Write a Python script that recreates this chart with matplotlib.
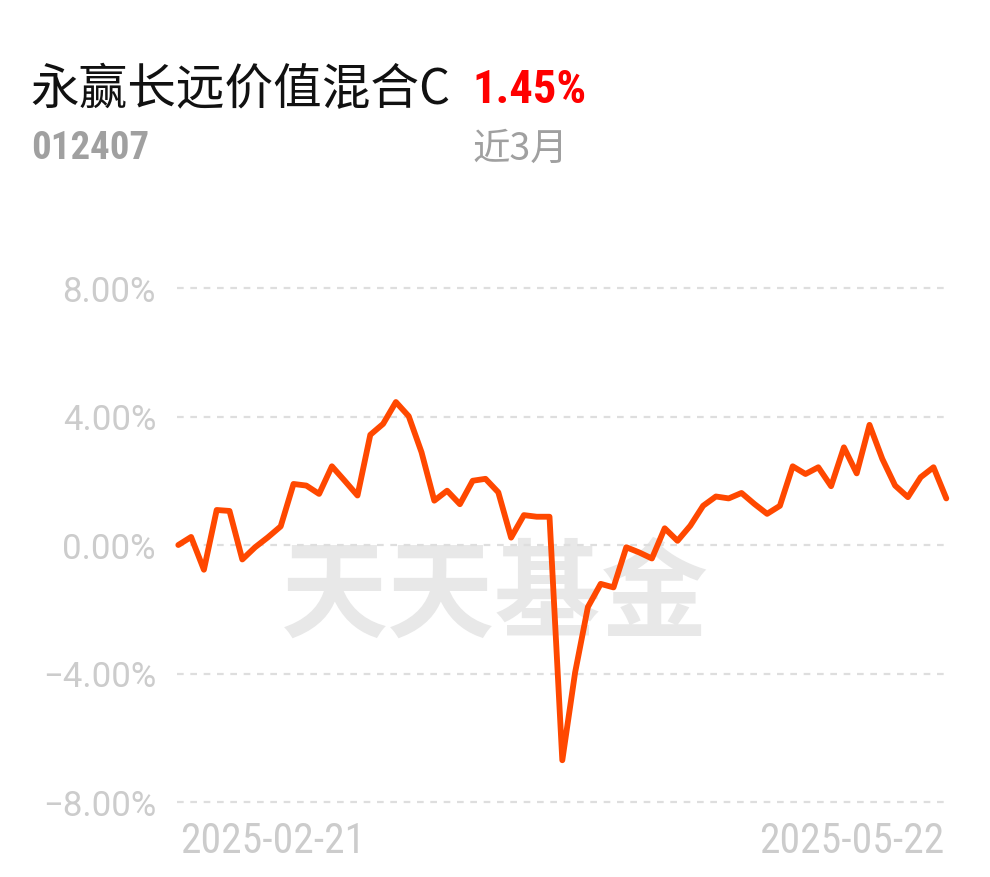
import matplotlib
matplotlib.use("Agg")
import matplotlib.pyplot as plt
import numpy as np

# ---- data ----
fund_name = "永赢长远价值混合C"
fund_code = "012407"
period_return = "1.45%"
period_label = "近3月"
start_date = "2025-02-21"
end_date = "2025-05-22"
y_ticks = [-8, -4, 0, 4, 8]
y_tick_labels = ["-8.00%", "-4.00%", "0.00%", "4.00%", "8.00%"]
returns = [
    0.00, 0.25, -0.77, 1.09, 1.06, -0.45, -0.07, 0.24, 0.58, 1.90,
    1.85, 1.59, 2.45, 2.00, 1.54, 3.43, 3.77, 4.45, 4.01, 2.89,
    1.38, 1.69, 1.27, 2.00, 2.06, 1.64, 0.23, 0.93, 0.88, 0.88,
    -6.70, -3.97, -1.93, -1.21, -1.32, -0.07, -0.23, -0.42, 0.52, 0.13,
    0.60, 1.22, 1.51, 1.45, 1.62, 1.28, 0.97, 1.22, 2.45, 2.21,
    2.42, 1.83, 3.04, 2.23, 3.74, 2.68, 1.85, 1.49, 2.11, 2.42,
    1.45,
]

W, H = 990, 878
fig = plt.figure(figsize=(W / 100, H / 100), dpi=100)
fig.patch.set_facecolor("white")

def fx(px):
    return px / W

def fy(py):
    return 1 - py / H

CJK = ["Noto Sans CJK SC", "DejaVu Sans"]
COND = ["Roboto Condensed", "DejaVu Sans"]

left, right = 178.3, 946.3
top, bottom = 289, 803
ax = fig.add_axes([fx(left), fy(bottom), (right - left) / W, (bottom - top) / H])
ax.set_xlim(0, len(returns) - 1)
ax.set_ylim(-8, 8)
for s in ax.spines.values():
    s.set_visible(False)
ax.set_xticks([])
ax.set_yticks([])
ax.patch.set_alpha(0)

for t in y_ticks:
    ax.plot([-0.1, len(returns) - 1 - 0.1], [t, t], color="#dedede", lw=1.6,
            dashes=(3, 3), clip_on=False, zorder=1)

# watermark
ax.text(0.412, 0.40, "天天基金", transform=ax.transAxes, ha="center", va="center",
        fontsize=77, fontweight="heavy", color="#e8e8e8", family=CJK, zorder=0)

x = np.arange(len(returns))
ax.plot(x, returns, color="#ff4800", lw=4.2, solid_joinstyle="round",
        solid_capstyle="round", clip_on=False, zorder=3)

for t, lab in zip(y_ticks, y_tick_labels):
    ypx = bottom - (t + 8) / 16 * (bottom - top)
    fig.text(fx(156), fy(ypx), lab.replace("-", "\u2212"), ha="right", va="center_baseline",
             fontsize=25, color="#cccccc", family=["Roboto", "DejaVu Sans"])

fig.text(fx(180), fy(853), start_date, ha="left", va="baseline", fontsize=30,
         color="#cccccc", family=COND)
fig.text(fx(944), fy(853), end_date, ha="right", va="baseline", fontsize=30,
         color="#cccccc", family=COND)

fig.text(fx(30), fy(104), fund_name, ha="left", va="baseline", fontsize=35,
         color="#111111", family=CJK)
fig.text(fx(472), fy(103), period_return, ha="left", va="baseline", fontsize=33.5,
         color="#ff0000", fontweight="bold", family=COND)
fig.text(fx(31), fy(159), fund_code, ha="left", va="baseline", fontsize=28,
         color="#a0a0a0", fontweight="bold", family=COND)
fig.text(fx(472), fy(160), period_label, ha="left", va="baseline", fontsize=27,
         color="#a0a0a0", family=CJK)

fig.savefig("out.png", dpi=100, facecolor="white")
